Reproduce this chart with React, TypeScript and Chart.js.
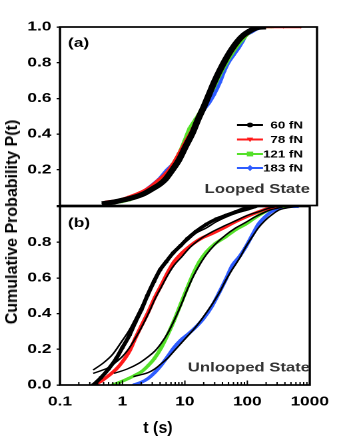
import React, { useEffect, useRef } from "react";
import { Chart, registerables } from "chart.js";

Chart.register(...registerables);

// ---------- data ----------
const seriesLabels = ["60 fN", "78 fN", "121 fN", "183 fN"];
const seriesColors = ["#000000", "#ff1a1a", "#55e02a", "#2e5cff"];
const xTickValues = [0.1, 1, 10, 100, 1000];
const xMinorTicks = [0.2, 0.3, 0.4, 0.5, 0.6, 0.7, 0.8, 0.9, 2, 3, 4, 5, 6, 7, 8, 9, 20, 30, 40, 50, 60, 70, 80, 90, 200, 300, 400, 500, 600, 700, 800, 900];
const xMajorInner = [1, 10, 100];

// Panel (a) Looped state
const loopT60 = [0.48, 0.8, 1.2, 1.8, 2.4, 3.3, 4.4, 5.6, 7.1, 9, 11.5, 14, 17.4, 21, 25, 31, 38, 47, 58, 72, 87, 105, 125];
const loopP60 = [0.012, 0.025, 0.04, 0.06, 0.08, 0.11, 0.15, 0.2, 0.26, 0.335, 0.41, 0.485, 0.56, 0.63, 0.69, 0.76, 0.82, 0.875, 0.92, 0.955, 0.98, 0.995, 1.0];
const loopT78 = [0.5, 0.8, 1.2, 1.8, 2.4, 3.3, 4.4, 5.6, 7, 9, 11.5, 14, 17, 21, 25, 31, 38, 47, 58, 72, 90, 110, 130, 300, 560];
const loopP78 = [0.02, 0.03, 0.05, 0.075, 0.1, 0.14, 0.18, 0.23, 0.29, 0.36, 0.43, 0.5, 0.56, 0.62, 0.68, 0.75, 0.81, 0.86, 0.91, 0.945, 0.97, 0.99, 1.0, 1.0, 1.0];
const loopT121 = [0.6, 0.9, 1.2, 1.8, 2.4, 3.3, 4.4, 5.6, 7, 8.5, 10.2, 12.5, 15, 17, 21, 25, 31, 38, 48, 60, 75, 90, 115, 140, 200];
const loopP121 = [0.01, 0.02, 0.03, 0.055, 0.08, 0.12, 0.17, 0.23, 0.29, 0.36, 0.43, 0.48, 0.525, 0.56, 0.61, 0.66, 0.73, 0.79, 0.85, 0.9, 0.94, 0.97, 0.99, 1.0, 1.0];
const loopT183 = [0.5, 0.75, 1.0, 1.5, 2.0, 2.7, 3.5, 4.6, 5.8, 7, 9, 11, 14, 17, 21, 25, 31, 36, 42, 50, 60, 70, 78, 95, 120, 160];
const loopP183 = [0.01, 0.02, 0.03, 0.055, 0.08, 0.115, 0.15, 0.2, 0.235, 0.27, 0.33, 0.4, 0.47, 0.53, 0.575, 0.62, 0.69, 0.75, 0.8, 0.84, 0.88, 0.92, 0.95, 0.97, 0.99, 1.0];
const loopFitT = [0.45, 0.7, 1.0, 1.4, 2.0, 2.8, 3.6, 4.4, 5.5, 7.1, 9, 11.5, 14, 17.4, 21, 25, 31, 38, 47, 58, 72, 87, 105, 125, 160];
const loopFitP = [0.01, 0.02, 0.032, 0.045, 0.065, 0.095, 0.12, 0.148, 0.195, 0.255, 0.33, 0.405, 0.48, 0.555, 0.625, 0.69, 0.76, 0.82, 0.875, 0.92, 0.955, 0.975, 0.99, 0.998, 1.0];

// Panel (b) Unlooped state
const unT60 = [0.34, 0.45, 0.6, 0.8, 1.0, 1.3, 1.6, 2.0, 2.5, 3.2, 4.0, 5.0, 6.5, 8.5, 11, 15, 22, 32, 45, 65, 93, 133];
const unP60 = [0.0, 0.04, 0.09, 0.15, 0.21, 0.28, 0.35, 0.42, 0.5, 0.58, 0.645, 0.69, 0.74, 0.78, 0.82, 0.86, 0.9, 0.93, 0.95, 0.97, 0.99, 1.0];
const unT78 = [0.34, 0.45, 0.62, 0.8, 1.0, 1.3, 1.6, 2.0, 2.6, 3.3, 4.2, 5.3, 6.7, 9, 12.2, 18, 28, 42, 65, 100, 150, 220, 306];
const unP78 = [0.0, 0.02, 0.056, 0.09, 0.13, 0.19, 0.26, 0.33, 0.41, 0.49, 0.56, 0.63, 0.69, 0.74, 0.78, 0.82, 0.85, 0.88, 0.915, 0.945, 0.97, 0.99, 1.0];
const unT121 = [0.69, 0.9, 1.26, 1.6, 2.03, 2.6, 3.27, 4.2, 5.28, 6.7, 8.5, 10.8, 13.7, 17, 22, 30, 45, 65, 93, 130, 169, 230, 300, 400];
const unP121 = [0.0, 0.015, 0.037, 0.055, 0.075, 0.11, 0.15, 0.21, 0.28, 0.36, 0.45, 0.54, 0.625, 0.69, 0.745, 0.79, 0.83, 0.87, 0.9, 0.935, 0.96, 0.985, 1.0, 1.0];
const unT183 = [1.5, 2.0, 2.58, 3.3, 4.16, 5.3, 6.7, 8.5, 10.8, 14.5, 19.6, 27, 35.7, 45, 57.6, 75, 93, 120, 150, 190, 241, 330, 450, 557, 650];
const unP183 = [0.0, 0.015, 0.037, 0.07, 0.11, 0.16, 0.21, 0.25, 0.28, 0.32, 0.37, 0.44, 0.52, 0.59, 0.67, 0.72, 0.77, 0.84, 0.9, 0.94, 0.97, 0.99, 1.0, 1.0, 1.0];
const fitT60 = [0.34, 0.5, 0.69, 1.0, 1.3, 1.6, 2.3, 3, 3.7, 4.7, 6, 8, 11, 15, 22, 32, 45, 70, 100, 150];
const fitP60 = [0.084, 0.125, 0.17, 0.25, 0.31, 0.37, 0.48, 0.56, 0.62, 0.67, 0.72, 0.77, 0.81, 0.85, 0.88, 0.915, 0.94, 0.965, 0.98, 1.0];
const fitT78 = [0.34, 0.45, 0.62, 0.8, 1.0, 1.3, 1.6, 2.0, 2.6, 3.3, 4.2, 5.3, 6.7, 9, 12, 18, 28, 42, 65, 100, 150, 220, 300];
const fitP78 = [0.065, 0.08, 0.1, 0.13, 0.16, 0.21, 0.26, 0.32, 0.4, 0.48, 0.55, 0.615, 0.67, 0.72, 0.77, 0.82, 0.86, 0.89, 0.92, 0.95, 0.97, 0.99, 1.0];
const fitT121 = [0.73, 1.2, 1.8, 2.5, 3.3, 4.2, 5.3, 6.7, 8.5, 10.8, 13.7, 17, 22, 30, 45, 65, 93, 130, 170, 230, 300, 400];
const fitP121 = [0.065, 0.09, 0.12, 0.155, 0.19, 0.235, 0.29, 0.36, 0.44, 0.53, 0.61, 0.67, 0.73, 0.785, 0.84, 0.88, 0.91, 0.94, 0.96, 0.98, 0.99, 1.0];
const fitT183 = [1.5, 2.0, 2.6, 3.3, 4.2, 5.3, 6.7, 8.5, 10.8, 14.5, 19.6, 27, 36, 45, 58, 75, 93, 120, 150, 190, 240, 320, 400, 600];
const fitP183 = [0.047, 0.058, 0.07, 0.09, 0.12, 0.15, 0.19, 0.23, 0.27, 0.32, 0.38, 0.45, 0.52, 0.585, 0.65, 0.71, 0.77, 0.83, 0.88, 0.92, 0.95, 0.98, 0.99, 1.0];

// ---------- layout ----------
const W = 256;
const H = 441;
const S = 341 / W; // horizontal stretch of the original figure
const PLOT_L = 60 / S;
const PLOT_R = 317 / S;
const FONT = "'Liberation Sans', Arial, sans-serif";

const pts = (t: number[], p: number[]) => t.map((x, i) => ({ x, y: p[i] }));
const pointStyles: any[] = ["circle", "triangle", "rect", "rectRot"];
const pointRot = [0, 180, 0, 0];

function dataSet(i: number, t: number[], p: number[], width: number) {
  return {
    label: seriesLabels[i],
    data: pts(t, p),
    borderColor: seriesColors[i],
    backgroundColor: seriesColors[i],
    borderWidth: width,
    pointRadius: 1.7,
    pointStyle: pointStyles[i],
    rotation: pointRot[i],
    pointBorderWidth: 0,
    cubicInterpolationMode: "monotone",
    order: i + 1,
  };
}
function fitSet(t: number[], p: number[], width: number) {
  return {
    label: "fit",
    data: pts(t, p),
    borderColor: "#000",
    borderWidth: width,
    pointRadius: 0,
    cubicInterpolationMode: "monotone",
    order: 0,
  };
}

const boxPlugin = {
  id: "box",
  afterDatasetsDraw(chart: any, _a: any, opts: any) {
    const { ctx, chartArea: a } = chart;
    ctx.save();
    ctx.strokeStyle = "#000";
    ctx.lineWidth = 1.7;
    ctx.strokeRect(a.left, a.top, a.right - a.left, a.bottom - a.top);
    if (opts && opts.innerTicks) {
      const xs = chart.scales.x;
      ctx.lineWidth = 1;
      ctx.beginPath();
      xMinorTicks.forEach((v) => {
        const x = xs.getPixelForValue(v);
        ctx.moveTo(x, a.bottom);
        ctx.lineTo(x, a.bottom - 3);
      });
      xMajorInner.forEach((v) => {
        const x = xs.getPixelForValue(v);
        ctx.moveTo(x, a.bottom);
        ctx.lineTo(x, a.bottom - 4.5);
      });
      ctx.stroke();
    }
    ctx.restore();
  },
};

const textPlugin = {
  id: "panelText",
  afterDraw(chart: any, _a: any, opts: any) {
    if (!opts || !opts.label) return;
    const { ctx } = chart;
    ctx.save();
    ctx.fillStyle = "#000";
    ctx.font = `bold 13px ${FONT}`;
    ctx.textAlign = "left";
    ctx.textBaseline = "alphabetic";
    ctx.fillText(opts.label, 68 / S, opts.labelY);
    ctx.fillStyle = "#333";
    ctx.font = `bold 12.5px ${FONT}`;
    ctx.textAlign = "right";
    ctx.fillText(opts.state, 310 / S, opts.stateY);
    if (opts.legend) {
      const rows = [125, 139.5, 154, 168];
      rows.forEach((y, i) => {
        const c = seriesColors[i];
        ctx.strokeStyle = c;
        ctx.fillStyle = c;
        ctx.lineWidth = 2;
        ctx.beginPath();
        ctx.moveTo(237 / S, y);
        ctx.lineTo(263 / S, y);
        ctx.stroke();
        const mx = 250 / S;
        const r = 2.4;
        ctx.beginPath();
        if (i === 0) ctx.arc(mx, y, r, 0, Math.PI * 2);
        else if (i === 1) { ctx.moveTo(mx - r, y - r * 0.8); ctx.lineTo(mx + r, y - r * 0.8); ctx.lineTo(mx, y + r * 1.1); ctx.closePath(); }
        else if (i === 2) ctx.rect(mx - r, y - r, 2 * r, 2 * r);
        else { ctx.moveTo(mx, y - r * 1.3); ctx.lineTo(mx + r, y); ctx.lineTo(mx, y + r * 1.3); ctx.lineTo(mx - r, y); ctx.closePath(); }
        ctx.fill();
        ctx.fillStyle = "#000";
        ctx.font = `bold 10px ${FONT}`;
        ctx.textAlign = "right";
        ctx.textBaseline = "middle";
        ctx.fillText(seriesLabels[i], 303 / S, y + 0.5);
      });
    }
    ctx.restore();
  },
};

function yAxis(hide: (v: number) => boolean) {
  return {
    min: 0,
    max: 1,
    afterFit: (s: any) => { s.width = PLOT_L; },
    ticks: {
      stepSize: 0.2,
      color: "#000",
      padding: 4,
      font: { family: FONT, size: 13, weight: "bold" },
      callback: (v: any) => (hide(Number(v)) ? "" : Number(v).toFixed(1)),
    },
    grid: { drawOnChartArea: false, drawTicks: true, tickLength: 2.5, color: "#000", lineWidth: 1.3 },
    border: { display: false },
  };
}

function makeTop(): any {
  return {
    type: "line",
    data: {
      datasets: [
        fitSet(loopFitT, loopFitP, 5),
        dataSet(0, loopT60, loopP60, 3),
        dataSet(1, loopT78, loopP78, 2.5),
        dataSet(2, loopT121, loopP121, 2.5),
        dataSet(3, loopT183, loopP183, 2.8),
      ],
    },
    options: {
      animation: false,
      responsive: false,
      devicePixelRatio: 2,
      layout: { padding: { left: 0, right: W - PLOT_R, top: 27, bottom: H - 205.5 } },
      plugins: {
        legend: { display: false },
        tooltip: { enabled: false },
        box: { innerTicks: false },
        panelText: { label: "(a)", labelY: 47, state: "Looped State", stateY: 193, legend: true },
      },
      scales: {
        x: { type: "logarithmic", min: 0.1, max: 1000, display: false },
        y: yAxis((v) => v < 0.01),
      },
    },
    plugins: [boxPlugin, textPlugin],
  };
}

function makeBottom(): any {
  return {
    type: "line",
    data: {
      datasets: [
        fitSet(fitT60, fitP60, 1.4),
        fitSet(fitT78, fitP78, 1.4),
        fitSet(fitT121, fitP121, 1.4),
        fitSet(fitT183, fitP183, 1.4),
        dataSet(0, unT60, unP60, 3.2),
        dataSet(1, unT78, unP78, 3),
        dataSet(2, unT121, unP121, 3),
        dataSet(3, unT183, unP183, 3),
      ],
    },
    options: {
      animation: false,
      responsive: false,
      devicePixelRatio: 2,
      layout: { padding: { left: 0, right: W - PLOT_R, top: 206.5, bottom: 0 } },
      plugins: {
        legend: { display: false },
        tooltip: { enabled: false },
        box: { innerTicks: true },
        panelText: { label: "(b)", labelY: 227, state: "Unlooped State", stateY: 371.5, legend: false },
      },
      scales: {
        x: {
          type: "logarithmic",
          min: 0.1,
          max: 1000,
          afterFit: (s: any) => { s.height = H - 385; },
          afterBuildTicks: (s: any) => { s.ticks = xTickValues.map((v) => ({ value: v })); },
          ticks: {
            color: "#000",
            padding: 9,
            autoSkip: false,
            maxRotation: 0,
            font: { family: FONT, size: 13, weight: "bold" },
            callback: (v: any) => String(v),
          },
          grid: { drawOnChartArea: false, drawTicks: false },
          border: { display: false },
        },
        y: yAxis((v) => v > 0.99),
      },
    },
    plugins: [boxPlugin, textPlugin],
  };
}

export default function App() {
  const topRef = useRef<HTMLCanvasElement>(null);
  const botRef = useRef<HTMLCanvasElement>(null);
  useEffect(() => {
    const c1 = new Chart(topRef.current as HTMLCanvasElement, makeTop());
    const c2 = new Chart(botRef.current as HTMLCanvasElement, makeBottom());
    return () => {
      c1.destroy();
      c2.destroy();
    };
  }, []);
  const canvasStyle: React.CSSProperties = { position: "absolute", left: 0, top: 0, width: W, height: H };
  return (
    <div style={{ position: "fixed", left: 0, top: 0, width: 341, height: H, background: "#fff", overflow: "hidden" }}>
      <div style={{ position: "absolute", left: 0, top: 0, width: W, height: H, transform: `scaleX(${S})`, transformOrigin: "0 0" }}>
        <canvas ref={topRef} width={W} height={H} style={canvasStyle} />
        <canvas ref={botRef} width={W} height={H} style={canvasStyle} />
      </div>
      <div
        style={{
          position: "absolute",
          left: 12,
          top: 222,
          transform: "translate(-50%, -50%) rotate(-90deg)",
          whiteSpace: "nowrap",
          font: `bold 16px ${FONT}`,
          color: "#000",
        }}
      >
        Cumulative Probability P(t)
      </div>
      <div
        style={{
          position: "absolute",
          left: 158,
          top: 428,
          transform: "translate(-50%, -50%)",
          whiteSpace: "nowrap",
          font: `bold 16px ${FONT}`,
          color: "#000",
        }}
      >
        t (s)
      </div>
    </div>
  );
}
